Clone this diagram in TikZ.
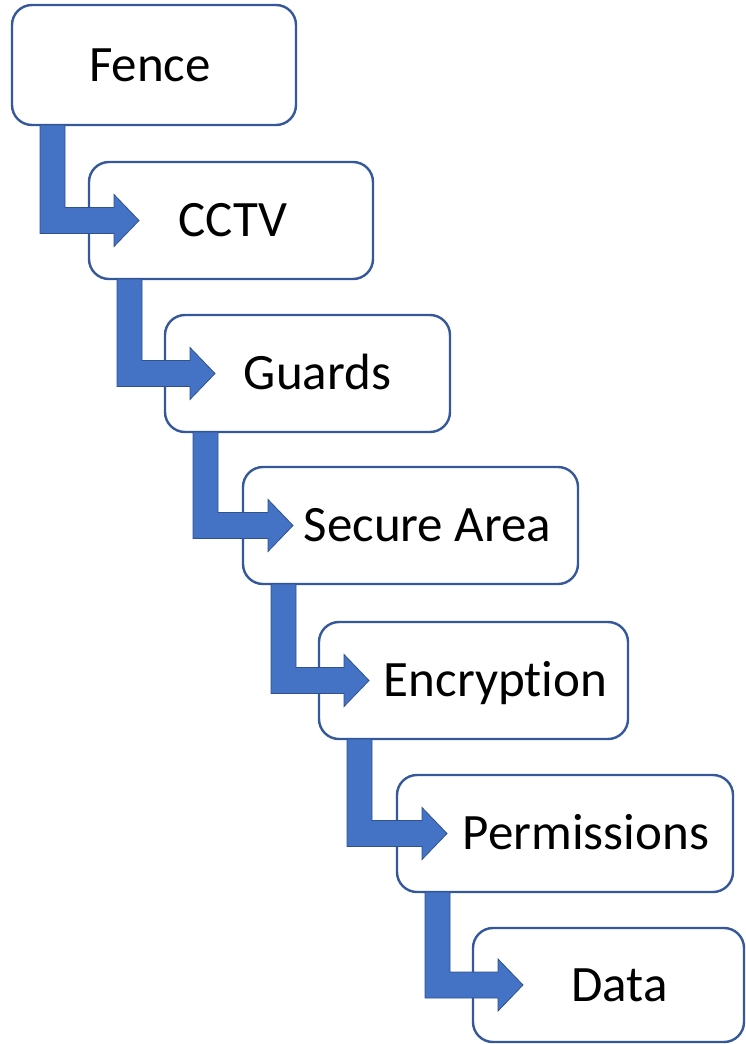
\documentclass[tikz,border=0pt]{standalone}
\usepackage{fontspec}
\setmainfont{Carlito}[Ligatures=NoCommon]
\usetikzlibrary{calc}
\definecolor{boxline}{HTML}{35589A}
\definecolor{arrowblue}{HTML}{4472C4}
\definecolor{arrowline}{HTML}{2F528F}
\begin{document}
\begin{tikzpicture}[x=1pt,y=-1pt,
  stage/.style={draw=boxline, line width=2.4pt, fill=white, rounded corners=20pt,
    anchor=north west, inner sep=0pt, outer sep=0pt, minimum height=117pt,
    text height=32pt, text depth=0pt, font=\fontsize{51}{60}\selectfont},
  bendarrow/.style={fill=arrowblue, draw=arrowline, line width=0.8pt, line join=miter}]
\useasboundingbox (0,0) rectangle (746,1044);
\node[stage, minimum width=284pt, minimum height=120pt] (b1) at (12,5) {\hspace*{-8pt}Fence};
\node[stage, minimum width=284pt] (b2) at (89,162) {\hspace*{4pt}CCTV};
\node[stage, minimum width=285pt] (b3) at (165,315) {\hspace*{20pt}Guards};
\node[stage, minimum width=335pt] (b4) at (243,467) {\hspace*{34pt}Secure Area};
\node[stage, minimum width=309pt] (b5) at (319,622) {\hspace*{44pt}Encrypt\kern0pt ion};
\node[stage, minimum width=336pt] (b6) at (397,775) {\hspace*{42pt}Permissions};
\node[stage, minimum width=271pt, minimum height=114pt] (b7) at (473,928) {\hspace*{22pt}Data};
\foreach \a/\b in {b1/b2,b2/b3,b3/b4,b4/b5,b5/b6,b6/b7}{
  \draw[bendarrow] let \p1=(\a.south west), \p2=(\b.west) in
    (\x1+28pt,\y1) -- (\x1+53pt,\y1) -- (\x1+53pt,\y2+13pt) -- (\x2+25pt,\y2+13pt)
    -- (\x2+25pt,\y2+26pt) -- (\x2+50pt,\y2) -- (\x2+25pt,\y2-26pt)
    -- (\x2+25pt,\y2-13pt) -- (\x1+28pt,\y2-13pt) -- cycle;
}
\end{tikzpicture}
\end{document}
